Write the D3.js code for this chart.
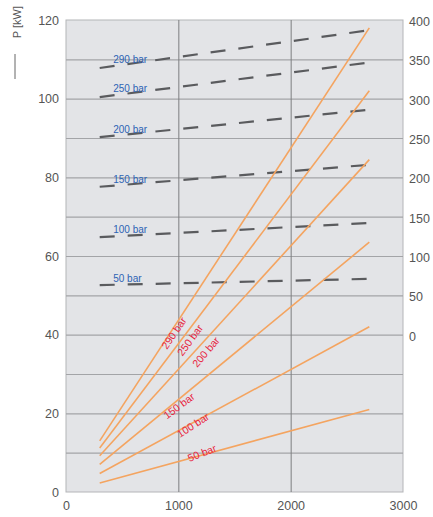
<!DOCTYPE html>
<html><head><meta charset="utf-8">
<script src="https://cdn.jsdelivr.net/npm/d3@7"></script>
<style>body{margin:0;background:#fff;font-family:"Liberation Sans",Arial,sans-serif}</style>
</head><body><svg id="c" width="433" height="517"></svg>
<script>
const pressures = ["290 bar","250 bar","200 bar","150 bar","100 bar","50 bar"];
const rpmRange = [300, 2700];
// power P [kW] at rpm start / end (left axis)
const powerStart = [13, 11.2, 9.2, 7, 4.7, 2.3];
const powerEnd = [118, 102, 84.5, 63.5, 42, 21];
// torque-type values on right axis at rpm start / end
const torqueStart = [339, 302, 251, 188, 124, 63];
const torqueEnd = [387, 346, 286, 216, 142, 71];
const leftTicks = [0,20,40,60,80,100,120];
const rightTicks = [0,50,100,150,200,250,300,350,400];
const xTicks = [0,1000,2000,3000];
// red label centres (rpm, P) and angles
const redLabelPos = [[961,40.4],[1104,38.6],[1246,35.6],[1006,21.9],[1131,17],[1211,9.9]];
const redLabelAng = [-56,-54,-50,-37,-33,-22];

const svg = d3.select("#c");
const L=66,R=403,T=20,B=492;
const x = d3.scaleLinear().domain([0,3000]).range([L,R]);
const yL = d3.scaleLinear().domain([0,120]).range([B,T]);
const yR = d3.scaleLinear().domain([-200,400]).range([B,T]);

svg.append("rect").attr("x",L).attr("y",T).attr("width",R-L).attr("height",B-T)
  .attr("fill","#e3e4e7").attr("stroke","#b4b5b8").attr("stroke-width",1);

svg.append("g").selectAll("line").data(d3.range(10,120,10)).join("line")
  .attr("x1",L).attr("x2",R).attr("y1",d=>yL(d)+0.5).attr("y2",d=>yL(d)+0.5)
  .attr("stroke","#a3a4a7").attr("stroke-width",1.2);
svg.append("g").selectAll("line").data([1000,2000]).join("line")
  .attr("x1",d=>x(d)+0.5).attr("x2",d=>x(d)+0.5).attr("y1",T).attr("y2",B)
  .attr("stroke","#7d7e80").attr("stroke-width",1);

const axL = svg.append("g").attr("transform",`translate(${L},0)`)
  .call(d3.axisLeft(yL).tickValues(leftTicks).tickSize(0).tickPadding(7));
const axR = svg.append("g").attr("transform",`translate(${R},0)`)
  .call(d3.axisRight(yR).tickValues(rightTicks).tickSize(0).tickPadding(6));
const axB = svg.append("g").attr("transform",`translate(0,${B})`)
  .call(d3.axisBottom(x).tickValues(xTicks).tickFormat(d3.format("d")).tickSize(0).tickPadding(9));
[axL,axR,axB].forEach(a=>{a.select(".domain").remove();
  a.selectAll("text").attr("fill","#555").style("font-size","12.5px").style("font-family","Liberation Sans, Arial, sans-serif");});
axR.selectAll("text").attr("dy","0.45em");

const yl = svg.append("g").attr("transform","translate(21,6) rotate(-90)");
yl.append("text").attr("x",0).attr("y",0).attr("text-anchor","end").attr("fill","#555")
  .style("font-size","11px").text("P [kW]");
yl.append("line").attr("x1",-48).attr("x2",-73).attr("y1",-6).attr("y2",-6).attr("stroke","#666").attr("stroke-width",1);

const lineR = d3.line().x(d=>x(d[0])).y(d=>yR(d[1]));
pressures.forEach((p,i)=>{
  svg.append("path").attr("d",lineR([[rpmRange[0],torqueStart[i]],[rpmRange[1],torqueEnd[i]]]))
    .attr("fill","none").attr("stroke","#5a5b5e").attr("stroke-width",2.2).attr("stroke-dasharray","15,13");
  const slope = (torqueEnd[i]-torqueStart[i])/(rpmRange[1]-rpmRange[0]);
  svg.append("text").attr("x",x(420)).attr("y",yR(torqueStart[i]+slope*120)-3)
    .attr("fill","#2d63b5").style("font-size","10px").text(p);
});

const lineL = d3.line().x(d=>x(d[0])).y(d=>yL(d[1]));
pressures.forEach((p,i)=>{
  svg.append("path").attr("d",lineL([[rpmRange[0],powerStart[i]],[rpmRange[1],powerEnd[i]]]))
    .attr("fill","none").attr("stroke","#f4a460").attr("stroke-width",1.6);
  svg.append("text").attr("transform",`translate(${x(redLabelPos[i][0])},${yL(redLabelPos[i][1])}) rotate(${redLabelAng[i]})`)
    .attr("text-anchor","middle").attr("dy","0.35em").attr("fill","#e8253f").style("font-size","10.5px").text(p);
});
</script></body></html>
